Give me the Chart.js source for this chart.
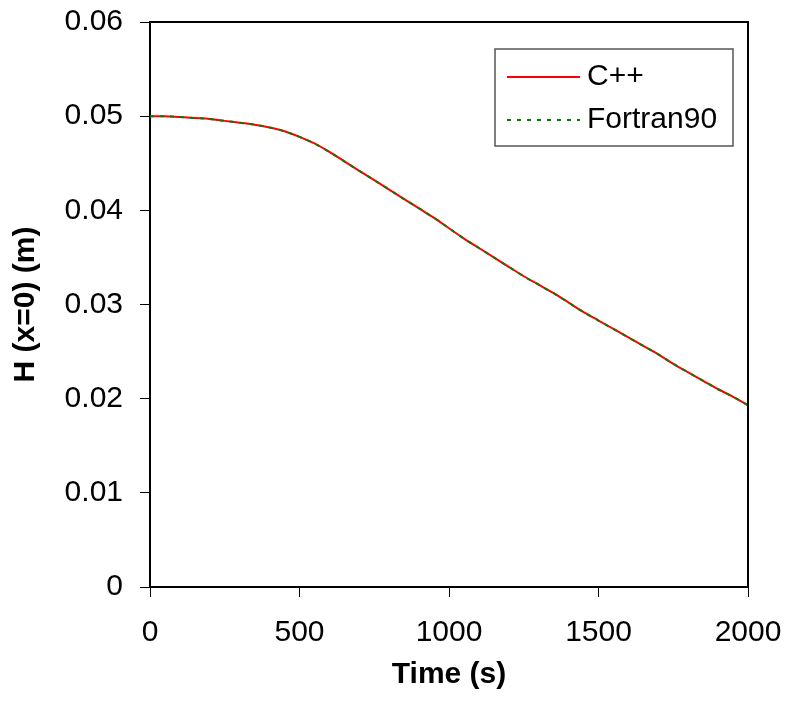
<!DOCTYPE html>
<html>
<head>
<meta charset="utf-8">
<script src="https://cdn.jsdelivr.net/npm/chart.js@4"></script>
<style>
  body { margin: 0; background: #fff; }
  #wrap { width: 786px; height: 709px; }
</style>
</head>
<body>
<div id="wrap"><canvas id="chart" width="786" height="709"></canvas></div>
<script>
// time (s)
const timeSteps = [0, 50, 100, 150, 200, 250, 300, 350, 400, 450, 500, 550, 600, 650, 700, 750, 800,
    850, 900, 950, 1000, 1050, 1100, 1150, 1200, 1250, 1300, 1350, 1400, 1450, 1500, 1550, 1600,
    1650, 1700, 1750, 1800, 1850, 1900, 1950, 2000];

// H (x=0) in metres
const cppValues = [0.0500, 0.0500, 0.0499, 0.0498, 0.0497, 0.0495, 0.0493, 0.0491, 0.0488, 0.0484,
    0.0478, 0.0471, 0.0462, 0.0452, 0.0442, 0.0432, 0.0422, 0.0412, 0.0402, 0.0392, 0.0381,
    0.0370, 0.0360, 0.0350, 0.0340, 0.0330, 0.0321, 0.0312, 0.0302, 0.0292, 0.0283, 0.0274,
    0.0265, 0.0256, 0.0247, 0.0237, 0.0228, 0.0219, 0.0210, 0.0202, 0.0193];
const fortranValues = [0.0500, 0.0500, 0.0499, 0.0498, 0.0497, 0.0495, 0.0493, 0.0491, 0.0488, 0.0484,
    0.0478, 0.0471, 0.0462, 0.0452, 0.0442, 0.0432, 0.0422, 0.0412, 0.0402, 0.0392, 0.0381,
    0.0370, 0.0360, 0.0350, 0.0340, 0.0330, 0.0321, 0.0312, 0.0302, 0.0292, 0.0283, 0.0274,
    0.0265, 0.0256, 0.0247, 0.0237, 0.0228, 0.0219, 0.0210, 0.0202, 0.0193];

const seriesNames = ['C++', 'Fortran90'];
const xTicks = [0, 500, 1000, 1500, 2000];
const yTicks = [0, 0.01, 0.02, 0.03, 0.04, 0.05, 0.06];

const FONT = "'Liberation Sans', Arial, sans-serif";

function toPoints(values) {
    return timeSteps.map((t, i) => ({ x: t, y: values[i] }));
}

// Box around the plot area (top and right edges)
const frame = {
    id: 'frame',
    afterDatasetsDraw(chart) {
        const { ctx, chartArea: a } = chart;
        ctx.save();
        ctx.strokeStyle = '#000';
        ctx.lineWidth = 2;
        ctx.beginPath();
        ctx.moveTo(a.left, a.top);
        ctx.lineTo(a.right, a.top);
        ctx.lineTo(a.right, a.bottom);
        ctx.stroke();
        ctx.restore();
    }
};

// Legend drawn inside the plot, top right
const boxLegend = {
    id: 'boxLegend',
    afterDraw(chart) {
        const { ctx, chartArea: a } = chart;
        const left = a.left + 345, top = a.top + 27, w = 238, h = 97;
        ctx.save();
        ctx.fillStyle = '#fff';
        ctx.fillRect(left, top, w, h);
        ctx.strokeStyle = '#555';
        ctx.lineWidth = 1.5;
        ctx.strokeRect(left, top, w, h);
        const rows = [top + 28, top + 71];
        chart.data.datasets.forEach((ds, i) => {
            const y = rows[i];
            ctx.strokeStyle = ds.borderColor;
            ctx.lineWidth = ds.borderWidth;
            ctx.setLineDash(ds.borderDash || []);
            ctx.beginPath();
            ctx.moveTo(left + 12, y);
            ctx.lineTo(left + 85, y);
            ctx.stroke();
            ctx.setLineDash([]);
            ctx.fillStyle = '#000';
            ctx.font = '30px ' + FONT;
            ctx.textBaseline = 'middle';
            ctx.textAlign = 'left';
            ctx.fillText(ds.label, left + 92, y);
        });
        ctx.restore();
    }
};

const ctx = document.getElementById('chart').getContext('2d');
new Chart(ctx, {
    type: 'line',
    data: {
        datasets: [{
            label: seriesNames[0],
            data: toPoints(cppValues),
            borderColor: '#ff0000',
            borderWidth: 2,
            pointRadius: 0,
            cubicInterpolationMode: 'monotone',
            order: 1
        }, {
            label: seriesNames[1],
            data: toPoints(fortranValues),
            borderColor: '#008000',
            borderWidth: 2,
            borderDash: [4, 6],
            pointRadius: 0,
            cubicInterpolationMode: 'monotone',
            order: 0
        }]
    },
    options: {
        responsive: false,
        animation: false,
        layout: { padding: { top: 22, right: 38, left: 0, bottom: 0 } },
        plugins: {
            legend: { display: false },
            tooltip: { enabled: false }
        },
        scales: {
            x: {
                type: 'linear',
                min: 0,
                max: 2000,
                afterBuildTicks: scale => { scale.ticks = xTicks.map(v => ({ value: v })); },
                afterFit: scale => {
                    scale.height = 122;
                    scale.paddingLeft = 0;
                    scale.paddingRight = 0;
                },
                grid: { drawOnChartArea: false, drawTicks: true, tickLength: 10, color: '#000', lineWidth: 1 },
                border: { color: '#000', width: 2 },
                ticks: {
                    color: '#000',
                    padding: 18,
                    maxRotation: 0,
                    font: { family: FONT, size: 30 },
                    callback: v => String(v)
                },
                title: {
                    display: true,
                    text: 'Time (s)',
                    color: '#000',
                    font: { family: FONT, size: 30, weight: 'bold' },
                    padding: { top: 0, bottom: 16 }
                }
            },
            y: {
                min: 0,
                max: 0.06,
                afterBuildTicks: scale => { scale.ticks = yTicks.map(v => ({ value: v })); },
                afterFit: scale => {
                    scale.width = 150;
                    scale.paddingTop = 0;
                    scale.paddingBottom = 0;
                },
                grid: { drawOnChartArea: false, drawTicks: true, tickLength: 10, color: '#000', lineWidth: 1 },
                border: { color: '#000', width: 2 },
                ticks: {
                    color: '#000',
                    padding: 17,
                    font: { family: FONT, size: 30 },
                    callback: v => String(v)
                },
                title: {
                    display: true,
                    text: 'H (x=0) (m)',
                    color: '#000',
                    font: { family: FONT, size: 30, weight: 'bold' },
                    padding: { top: 8, bottom: 0 }
                }
            }
        }
    },
    plugins: [frame, boxLegend]
});
</script>
</body>
</html>
